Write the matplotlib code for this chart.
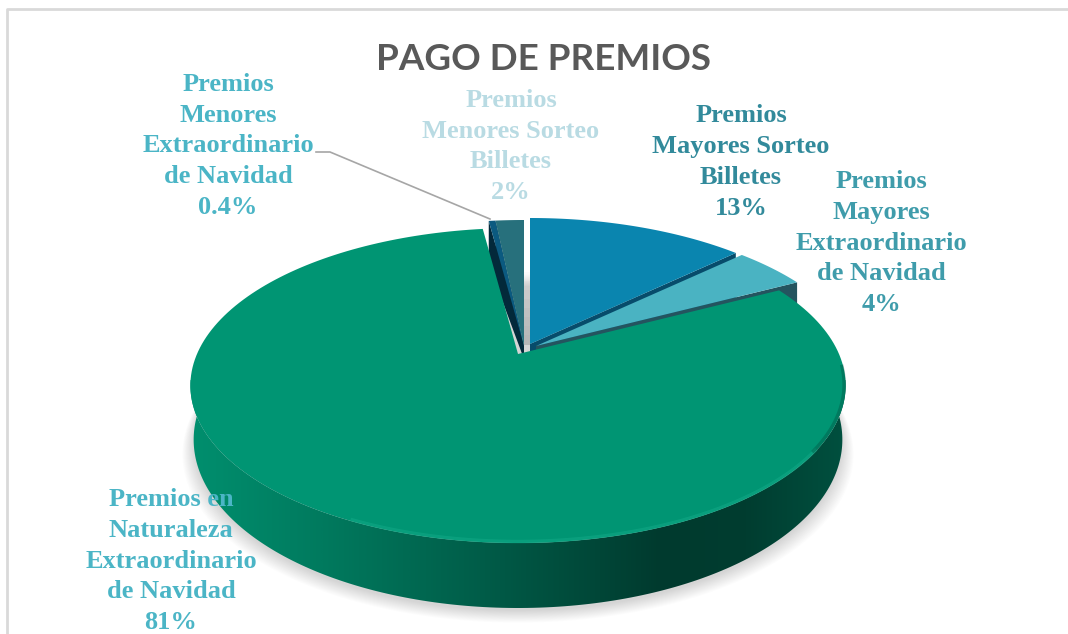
import numpy as np
from matplotlib import pyplot as plt
from matplotlib.colors import LinearSegmentedColormap
from matplotlib.patches import Polygon

title = "PAGO DE PREMIOS"
categories = ["Premios\nMayores Sorteo\nBilletes",
              "Premios\nMayores\nExtraordinario\nde Navidad",
              "Premios en\nNaturaleza\nExtraordinario\nde Navidad",
              "Premios\nMenores\nExtraordinario\nde Navidad",
              "Premios\nMenores Sorteo\nBilletes"]
values = [13.0, 4.4, 80.5, 0.4, 1.7]
pct_labels = ["13%", "4%", "81%", "0.4%", "2%"]

slice_colors = ["#0a85af", "#4ab3c2", "#009573", "#0b5a80", "#27707c"]
side_colors = ["#074c6b", "#24545f", "#00503f", "#03293a", "#03293a"]
text_colors = ["#328a9b", "#3f9cab", "#4bb5c6", "#4bb5c6", "#b9dbe3"]
apex = [(530, 344), (536, 346), (518, 354), (524, 346), (524, 346)]
label_xy = [(741, 162), (881, 243), (171, 561), (228, 146), (511, 146.5)]

# pie sits in perspective, far side squeezed
K = 0.2
AY = 151.2
BX = 321
DEPTH = 52


def project(theta, cx, cy, h=0.0, shrink=1.0):
    t = np.radians(theta)
    X, v = np.sin(t), np.cos(t)
    den = 1 + K * v
    return cx + shrink * BX * X / den, cy - AY * v / den + h * DEPTH / den


def arc(a, b, cx, cy, h=0.0, shrink=1.0, n=200):
    x, y = project(np.linspace(a, b, n), cx, cy, h, shrink)
    return np.column_stack([x, y])


fig = plt.figure(figsize=(10.68, 6.34), dpi=100)
ax = fig.add_axes([0, 0, 1, 1])
ax.set_xlim(0, 1068)
ax.set_ylim(634, 0)
ax.axis("off")

# border of the chart area
ax.plot([7, 7, 1068], [634, 9, 9], color="#d9d9d9", lw=2, zorder=1)

edges = np.concatenate([[0], np.cumsum(values)]) / sum(values) * 360
gcx, gcy = apex[2]

# soft shadow under the disc
for i in range(14):
    s = arc(0, 360, gcx, gcy + 3 + i * 0.9, 1.0, 0.988 + i * 0.0028)
    ax.add_patch(Polygon(s, color="#000000", alpha=0.012, lw=0, zorder=2))

# faint shade in the gap between the slices
for i in range(8):
    ax.add_patch(Polygon([(524, 345), (530, 345), (530, 272 + i * 9), (524, 272 + i * 9)],
                         color="#000000", alpha=0.016, lw=0, zorder=2))

# back slices, side wall first
for i in [0, 1, 3, 4]:
    a, b = edges[i], edges[i + 1]
    cx, cy = apex[i]
    corner = project(b if i < 2 else a, cx, cy)
    low = project(b if i < 2 else a, cx, cy, 1.0)
    wall = [(cx, cy), corner, low, (cx, cy + DEPTH * 0.25)]
    ax.add_patch(Polygon(wall, color=side_colors[i], lw=0, zorder=3))
    top = np.vstack([[cx, cy], arc(a, b, cx, cy)])
    ax.add_patch(Polygon(top, color=slice_colors[i], lw=0, zorder=4))

# green wall with the horizontal gradient
a, b = edges[2], edges[3]
wall = np.vstack([arc(90, 270, gcx, gcy), arc(270, 90, gcx, gcy, 1.0, 0.99)])
wall_patch = Polygon(wall, color="none", lw=0, transform=ax.transData)
ax.add_patch(wall_patch)
cmap = LinearSegmentedColormap.from_list("wall", [(0, "#008f6e"), (0.2, "#007a5e"), (0.45, "#005c48"),
                                                  (0.72, "#003a2e"), (0.85, "#003d30"), (1, "#00503f")])
im = ax.imshow(np.linspace(0, 1, 512).reshape(1, -1), cmap=cmap, extent=[190, 846, 620, 380],
               aspect="auto", zorder=5)
im.set_clip_path(wall_patch)
ax.set_xlim(0, 1068)
ax.set_ylim(634, 0)

top = np.vstack([[gcx, gcy], arc(a, b, gcx, gcy)])
ax.add_patch(Polygon(top, color=slice_colors[2], lw=0, zorder=6))

# bevel on the front rim
rim = arc(205, 125, gcx, gcy)
ax.plot(rim[:, 0], rim[:, 1] - 1.5, color="#12a987", lw=2.5, alpha=0.55, zorder=7)
rim = arc(125, 95, gcx, gcy)
ax.plot(rim[:, 0] - 1.5, rim[:, 1] - 1, color="#004a3a", lw=2.5, alpha=0.35, zorder=7)

# leader line for the 0.4% slice
ax.plot([316, 330, 490], [152, 152, 219], color="#a6a6a6", lw=1.2, zorder=8)

ax.text(544, 59, title, family="Lato", weight="bold", fontsize=26.5, color="#595959",
        ha="center", va="center", zorder=9)

for name, pct, col, (x, y) in zip(categories, pct_labels, text_colors, label_xy):
    ax.text(x, y, name + "\n" + pct, family="Liberation Serif", weight="bold", fontsize=19,
            color=col, ha="center", va="center", linespacing=1.43, zorder=9)

fig.savefig("out.png", dpi=100)
